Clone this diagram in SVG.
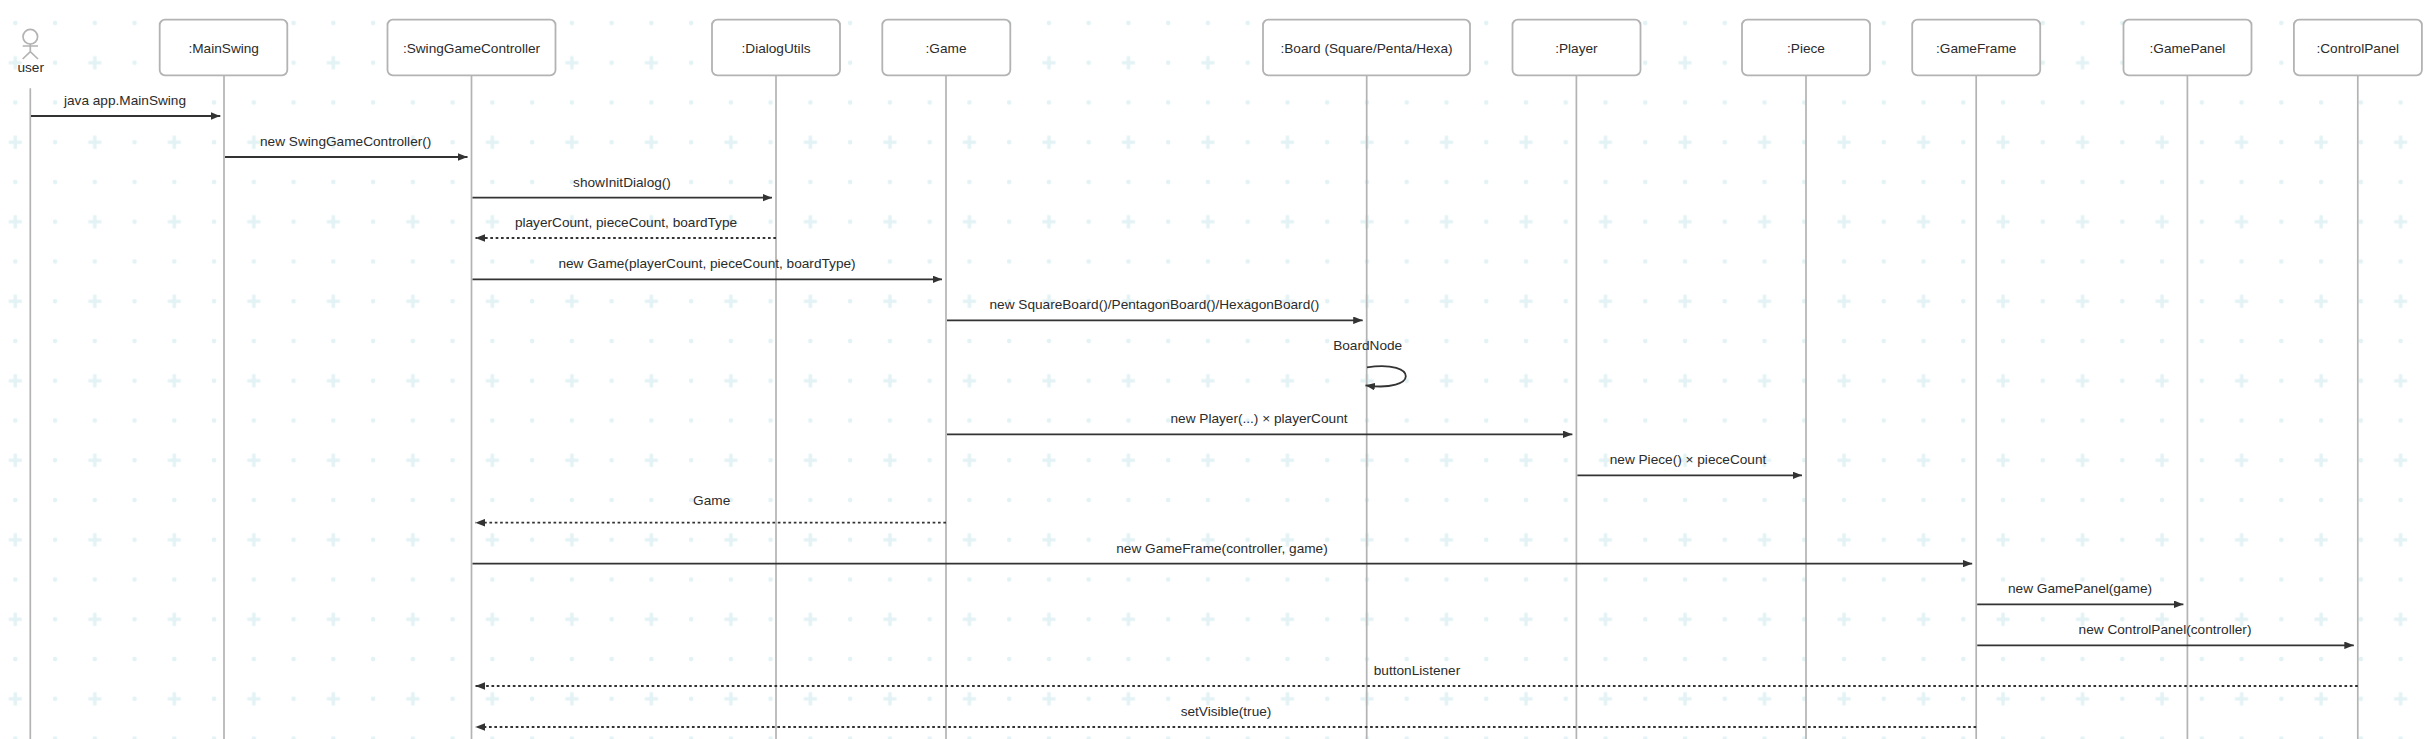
<svg xmlns="http://www.w3.org/2000/svg" width="2433" height="739" viewBox="0 0 2433 739">
<style>
text{font-family:"Liberation Sans",Arial,sans-serif;font-size:13.65px;fill:#2b2b2b;text-anchor:middle}
.box{fill:#fff;stroke:#b3b3b3;stroke-width:1.8}
.life{stroke:#b3b3b3;stroke-width:1.7;fill:none}
.msg{stroke:#333;stroke-width:1.8;fill:none;marker-end:url(#arrow)}
.ret{stroke-dasharray:2.67 2.67}
</style>
<defs>
<marker id="arrow" markerUnits="userSpaceOnUse" viewBox="0 0 10 8" markerWidth="9.5" markerHeight="7.6" refX="10" refY="4" orient="auto"><path d="M0 0L10 4L0 8z" fill="#333"/></marker>
<pattern id="grid" patternUnits="userSpaceOnUse" x="-4.7" y="3" width="79.51" height="79.51">
<g fill="#e2f2f5"><circle cx="20" cy="20" r="2.3"/><circle cx="59.75" cy="20" r="2.3"/><circle cx="59.75" cy="59.75" r="2.3"/><path d="M18.3 53.2h3.4v4.85h4.85v3.4h-4.85v4.85h-3.4v-4.85h-4.85v-3.4h4.85z"/></g>
</pattern>
</defs>
<rect width="2433" height="739" fill="#fff"/>
<rect width="2433" height="739" fill="url(#grid)"/>
<g id="user">
<circle cx="30.3" cy="36.7" r="7.3" fill="#fff" class="life"/>
<path class="life" d="M30.3 44V51.7M22.7 46H38M22.7 59L30.3 51.7L38 59M30.3 88.3V739"/>
<text x="30.7" y="72">user</text>
</g>
<g id="MainSwing"><path class="life" d="M224 75V739"/><rect class="box" x="159.7" y="19.7" width="127.6" height="55.6" rx="5.3"/><text x="223.7" y="52.5">:MainSwing</text></g>
<g id="SwingGameController"><path class="life" d="M471.5 75V739"/><rect class="box" x="387.5" y="19.7" width="168" height="55.6" rx="5.3"/><text x="471.5" y="52.5">:SwingGameController</text></g>
<g id="DialogUtils"><path class="life" d="M776 75V739"/><rect class="box" x="712" y="19.7" width="128" height="55.6" rx="5.3"/><text x="776" y="52.5">:DialogUtils</text></g>
<g id="Game"><path class="life" d="M946 75V739"/><rect class="box" x="882.3" y="19.7" width="128" height="55.6" rx="5.3"/><text x="946" y="52.5">:Game</text></g>
<g id="Board"><path class="life" d="M1366.7 75V739"/><rect class="box" x="1263" y="19.7" width="207" height="55.6" rx="5.3"/><text x="1366.5" y="52.5">:Board (Square/Penta/Hexa)</text></g>
<g id="Player"><path class="life" d="M1576.4 75V739"/><rect class="box" x="1512.5" y="19.7" width="128" height="55.6" rx="5.3"/><text x="1576.4" y="52.5">:Player</text></g>
<g id="Piece"><path class="life" d="M1806 75V739"/><rect class="box" x="1742" y="19.7" width="128" height="55.6" rx="5.3"/><text x="1806" y="52.5">:Piece</text></g>
<g id="GameFrame"><path class="life" d="M1976.2 75V739"/><rect class="box" x="1912.2" y="19.7" width="128" height="55.6" rx="5.3"/><text x="1976.2" y="52.5">:GameFrame</text></g>
<g id="GamePanel"><path class="life" d="M2187.4 75V739"/><rect class="box" x="2123.5" y="19.7" width="128" height="55.6" rx="5.3"/><text x="2187.4" y="52.5">:GamePanel</text></g>
<g id="ControlPanel"><path class="life" d="M2357.8 75V739"/><rect class="box" x="2293.9" y="19.7" width="128" height="55.6" rx="5.3"/><text x="2357.8" y="52.5">:ControlPanel</text></g>
<g id="connectors">
<path class="msg" d="M31 116H220.3"/><text x="125" y="105">java app.MainSwing</text>
<path class="msg" d="M225 157H467.5"/><text x="345.7" y="146">new SwingGameController()</text>
<path class="msg" d="M472.5 197.7H772"/><text x="622" y="186.7">showInitDialog()</text>
<path class="msg ret" d="M776 238H475.5"/><text x="626" y="227">playerCount, pieceCount, boardType</text>
<path class="msg" d="M472.5 279.3H942"/><text x="707" y="268.3">new Game(playerCount, pieceCount, boardType)</text>
<path class="msg" d="M947 320.3H1362.7"/><text x="1154.4" y="309.3">new SquareBoard()/PentagonBoard()/HexagonBoard()</text>
<text x="1367.7" y="350">BoardNode</text>
<path class="msg" d="M1367 367.3C1419 359.5 1419 393 1365.5 385.3"/>
<path class="msg" d="M947 434.3H1572.4"/><text x="1259" y="423.3">new Player(...) × playerCount</text>
<path class="msg" d="M1577.4 475.3H1802"/><text x="1688" y="464.3">new Piece() × pieceCount</text>
<path class="msg ret" d="M946 522.7H475.5"/><text x="711.7" y="505">Game</text>
<path class="msg" d="M472.5 563.6H1972.2"/><text x="1222" y="552.6">new GameFrame(controller, game)</text>
<path class="msg" d="M1977.2 604.3H2183.4"/><text x="2080" y="593.3">new GamePanel(game)</text>
<path class="msg" d="M1977.2 645.3H2353.8"/><text x="2165" y="634.3">new ControlPanel(controller)</text>
<path class="msg ret" d="M2357.8 686H475.5"/><text x="1417" y="675">buttonListener</text>
<path class="msg ret" d="M1976.2 727H475.5"/><text x="1226" y="716">setVisible(true)</text>
</g>
</svg>
